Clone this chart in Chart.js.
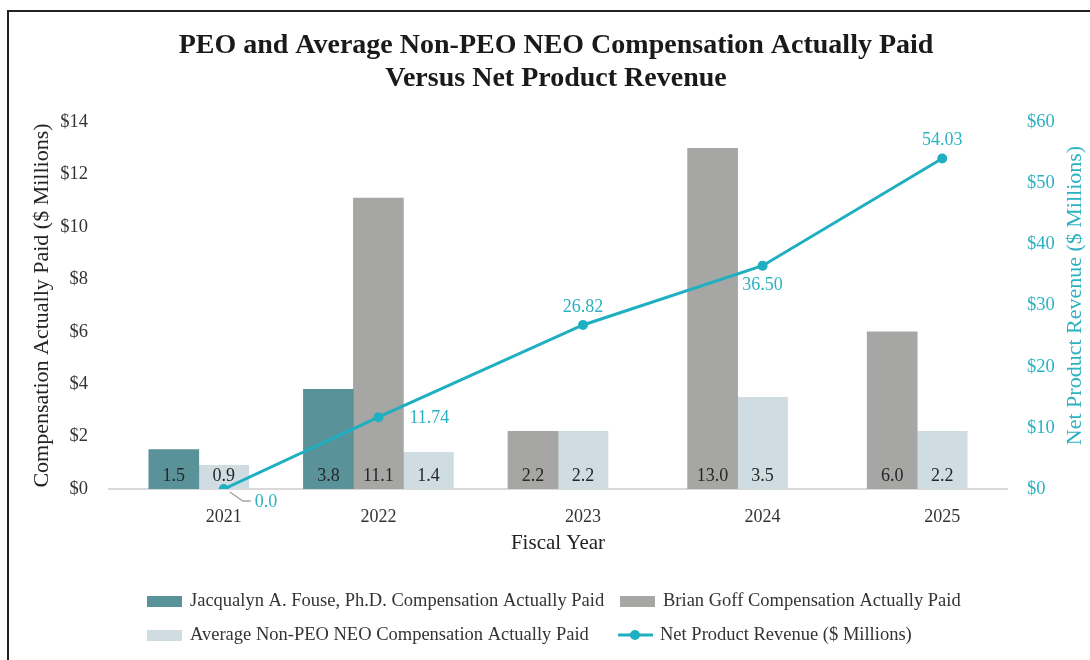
<!DOCTYPE html>
<html>
<head>
<meta charset="utf-8">
<script src="https://cdn.jsdelivr.net/npm/chart.js@4.4.1/dist/chart.umd.min.js"></script>
<style>
  html, body { margin: 0; padding: 0; background: #ffffff; }
  #wrap { width: 1090px; height: 660px; position: relative; }
  canvas { display: block; }
</style>
</head>
<body>
<div id="wrap"><canvas id="c" width="1090" height="660"></canvas></div>
<script>
// ---------- data ----------
const years = ['2021', '2022', '2023', '2024', '2025'];
const fouseCAP = [1.5, 3.8, null, null, null];
const goffCAP = [null, 11.1, 2.2, 13.0, 6.0];
const avgNonPeoCAP = [0.9, 1.4, 2.2, 3.5, 2.2];
const netRevenue = [0.0, 11.74, 26.82, 36.50, 54.03];
const revenueLabels = ['0.0', '11.74', '26.82', '36.50', '54.03'];
const leftTickValues = [0, 2, 4, 6, 8, 10, 12, 14];
const rightTickValues = [0, 10, 20, 30, 40, 50, 60];

const seriesNames = [
  'Jacqualyn A. Fouse, Ph.D. Compensation Actually Paid',
  'Brian Goff Compensation Actually Paid',
  'Average Non-PEO NEO Compensation Actually Paid',
  'Net Product Revenue ($ Millions)'
];
const rightAxisTitle = 'Net Product Revenue ($ Millions)';

// ---------- styling / layout ----------
const COLORS = { fouse: '#5a9299', goff: '#a6a6a5', avg: '#cfdde3', line: '#1eafc1', lineText: '#2ab2c2' };
const SERIF = '"Liberation Serif", "Times New Roman", serif';
const BAR_PX = 50;
const CAT_PX = 179.6;
const BAR_W = BAR_PX / CAT_PX;           // bar width in category units
const revenueLabelPlacement = ['leader', 'right', 'above', 'below', 'above'];

// Excel-like grouping: only non-null bars in a category, centred on it
const barSeries = [fouseCAP, goffCAP, avgNonPeoCAP];
function groupInfo(i) {
  return barSeries.map((s, k) => (s[i] !== null ? k : -1)).filter(k => k >= 0);
}
function barData(seriesIdx) {
  const out = [];
  years.forEach((_, i) => {
    const v = barSeries[seriesIdx][i];
    if (v === null) return;
    const members = groupInfo(i);
    const slot = members.indexOf(seriesIdx);
    const n = members.length;
    out.push({ x: i + (slot - (n - 1) / 2) * BAR_W, y: v });
  });
  return out;
}
// line point sits over the second bar of each group
const lineData = netRevenue.map((v, i) => {
  const n = groupInfo(i).length;
  return { x: i + (1 - (n - 1) / 2) * BAR_W, y: v };
});
const tickPositions = lineData.map(p => p.x);

// ---------- plugins ----------
const framePlugin = {
  id: 'frame',
  afterDraw(chart) {
    const ctx = chart.ctx;
    ctx.save();
    ctx.strokeStyle = '#222';
    ctx.lineWidth = 2;
    ctx.beginPath();
    ctx.moveTo(8, 660);
    ctx.lineTo(8, 11);
    ctx.lineTo(1090, 11);
    ctx.stroke();
    ctx.restore();
  }
};

const titlePlugin = {
  id: 'customTitle',
  afterDraw(chart) {
    const ctx = chart.ctx;
    const cx = (chart.chartArea.left + chart.chartArea.right) / 2 - 2;
    ctx.save();
    ctx.fillStyle = '#1a1a1a';
    ctx.font = 'bold 28px ' + SERIF;
    ctx.textAlign = 'center';
    ctx.textBaseline = 'middle';
    ctx.fillText('PEO and Average Non-PEO NEO Compensation Actually Paid', cx, 46);
    ctx.fillText('Versus Net Product Revenue', cx, 79);
    // right axis title, reading bottom-to-top
    const cy = (chart.chartArea.top + chart.chartArea.bottom) / 2 - 10;
    ctx.translate(1075, cy);
    ctx.rotate(-Math.PI / 2);
    ctx.font = '22px ' + SERIF;
    ctx.fillStyle = COLORS.lineText;
    ctx.fillText(rightAxisTitle, 0, 0);
    ctx.restore();
  }
};

const valueLabelPlugin = {
  id: 'valueLabels',
  afterDatasetsDraw(chart) {
    const ctx = chart.ctx;
    ctx.save();
    chart.data.datasets.forEach((ds, di) => {
      const meta = chart.getDatasetMeta(di);
      if (ds.type === 'line') {
        ctx.font = '18px ' + SERIF;
        ctx.fillStyle = COLORS.lineText;
        ctx.textBaseline = 'middle';
        meta.data.forEach((el, j) => {
          const txt = revenueLabels[j];
          const place = revenueLabelPlacement[j];
          if (place === 'leader') {
            ctx.strokeStyle = '#a6a6a6';
            ctx.lineWidth = 1.5;
            ctx.beginPath();
            ctx.moveTo(el.x + 6, el.y + 3);
            ctx.lineTo(el.x + 19, el.y + 12);
            ctx.lineTo(el.x + 27, el.y + 12);
            ctx.stroke();
            ctx.textAlign = 'left';
            ctx.fillText(txt, el.x + 31, el.y + 13);
          } else if (place === 'right') {
            ctx.textAlign = 'left';
            ctx.fillText(txt, el.x + 31, el.y + 1);
          } else if (place === 'above') {
            ctx.textAlign = 'center';
            ctx.fillText(txt, el.x, el.y - 18);
          } else {
            ctx.textAlign = 'center';
            ctx.fillText(txt, el.x, el.y + 20);
          }
        });
      } else {
        ctx.font = '18px ' + SERIF;
        ctx.fillStyle = '#262626';
        ctx.textAlign = 'center';
        ctx.textBaseline = 'middle';
        meta.data.forEach((el, j) => {
          const v = ds.data[j].y;
          ctx.fillText(v.toFixed(1), el.x, el.base - 13);
        });
      }
    });
    ctx.restore();
  }
};

const legendPlugin = {
  id: 'gridLegend',
  afterDraw(chart) {
    const ctx = chart.ctx;
    const cols = [147, 620];
    const rows = [601, 635];
    ctx.save();
    ctx.font = '18.5px ' + SERIF;
    ctx.fillStyle = '#333';
    ctx.textBaseline = 'middle';
    ctx.textAlign = 'left';
    chart.data.datasets.forEach((ds, i) => {
      const x = cols[i % 2];
      const y = rows[Math.floor(i / 2)];
      if (ds.type === 'line') {
        ctx.strokeStyle = ds.borderColor;
        ctx.lineWidth = 3;
        ctx.beginPath();
        ctx.moveTo(x - 2, y);
        ctx.lineTo(x + 33, y);
        ctx.stroke();
        ctx.fillStyle = ds.borderColor;
        ctx.beginPath();
        ctx.arc(x + 15, y, 5, 0, Math.PI * 2);
        ctx.fill();
        ctx.fillStyle = '#333';
        ctx.fillText(ds.label, x + 40, y);
      } else {
        ctx.fillStyle = ds.backgroundColor;
        ctx.fillRect(x, y - 5, 35, 11);
        ctx.fillStyle = '#333';
        ctx.fillText(ds.label, x + 43, y);
      }
    });
    ctx.restore();
  }
};

// ---------- chart ----------
new Chart(document.getElementById('c'), {
  type: 'bar',
  data: {
    datasets: [
      { type: 'bar', label: seriesNames[0], data: barData(0), backgroundColor: COLORS.fouse, grouped: false, barThickness: BAR_PX, order: 2, yAxisID: 'y' },
      { type: 'bar', label: seriesNames[1], data: barData(1), backgroundColor: COLORS.goff, grouped: false, barThickness: BAR_PX, order: 2, yAxisID: 'y' },
      { type: 'bar', label: seriesNames[2], data: barData(2), backgroundColor: COLORS.avg, grouped: false, barThickness: BAR_PX, order: 2, yAxisID: 'y' },
      { type: 'line', label: seriesNames[3], data: lineData, borderColor: COLORS.line, backgroundColor: COLORS.line,
        borderWidth: 3, pointRadius: 5, pointBackgroundColor: COLORS.line, pointBorderWidth: 0, tension: 0, order: 0, yAxisID: 'y2' }
    ]
  },
  options: {
    responsive: false,
    animation: false,
    devicePixelRatio: 1,
    layout: { padding: { top: 122, bottom: 101, left: 0, right: 0 } },
    plugins: { legend: { display: false }, tooltip: { enabled: false }, title: { display: false } },
    scales: {
      x: {
        type: 'linear', min: -0.5, max: 4.5, offset: false,
        grid: { display: false, drawTicks: false },
        border: { display: true, color: '#d9d9d9', width: 2 },
        afterBuildTicks: (scale) => { scale.ticks = tickPositions.map(v => ({ value: v })); },
        afterFit: (scale) => { scale.height = 70; },
        ticks: {
          autoSkip: false, maxRotation: 0, padding: 17, color: '#333',
          font: { family: SERIF, size: 18 },
          callback: (value, index) => years[index]
        },
        title: { display: true, text: 'Fiscal Year', color: '#222', font: { family: SERIF, size: 21 }, padding: { top: 0, bottom: 3 } }
      },
      y: {
        position: 'left', min: 0, max: 14,
        grid: { display: false, drawTicks: false },
        border: { display: false },
        afterBuildTicks: (scale) => { scale.ticks = leftTickValues.map(v => ({ value: v })); },
        afterFit: (scale) => { scale.width = 109; },
        ticks: { padding: 21, color: '#333', font: { family: SERIF, size: 18.5 }, callback: v => '$' + v },
        title: { display: true, text: 'Compensation Actually Paid ($ Millions)', color: '#222', font: { family: SERIF, size: 22 }, padding: { top: 29, bottom: 0 } }
      },
      y2: {
        position: 'right', min: 0, max: 60,
        grid: { display: false, drawTicks: false },
        border: { display: false },
        afterBuildTicks: (scale) => { scale.ticks = rightTickValues.map(v => ({ value: v })); },
        afterFit: (scale) => { scale.width = 83; },
        ticks: { padding: 20, color: COLORS.lineText, font: { family: SERIF, size: 18.5 }, callback: v => '$' + v },
        title: { display: false }
      }
    }
  },
  plugins: [valueLabelPlugin, titlePlugin, legendPlugin, framePlugin]
});
</script>
</body>
</html>
